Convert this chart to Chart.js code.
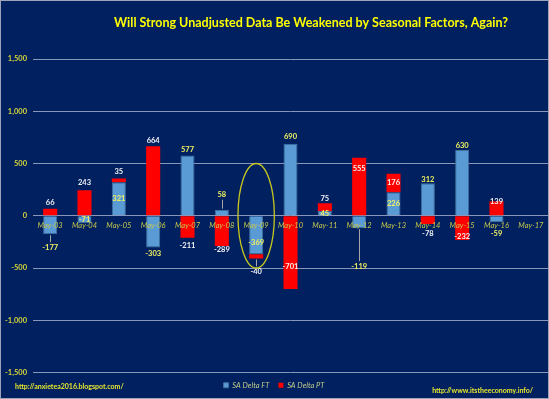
<!DOCTYPE html>
<html>
<head>
<meta charset="utf-8">
<script src="https://cdn.jsdelivr.net/npm/chart.js@4.4.1/dist/chart.umd.min.js"></script>
<style>
  html, body { margin: 0; padding: 0; background: #002060; }
  #wrap { width: 549px; height: 399px; }
</style>
</head>
<body>
<div id="wrap"><canvas id="chart" width="549" height="399"></canvas></div>
<script>
// data
const months = ['May-03', 'May-04', 'May-05', 'May-06', 'May-07', 'May-08', 'May-09', 'May-10',
                'May-11', 'May-12', 'May-13', 'May-14', 'May-15', 'May-16', 'May-17'];
const saDeltaFT = [-177, -71, 321, -303, 577, 58, -369, 690, 45, -119, 226, 312, 630, -59, null];
const saDeltaPT = [66, 243, 35, 664, -211, -289, -40, -701, 75, 555, 176, -78, -232, 139, null];
const yTicks = [-1500, -1000, -500, 0, 500, 1000, 1500];
const highlightMonth = 'May-09';

// where each value label sits: px outward from the bar end, or 'mid' for centred
const ftLabelGap = [13, 'mid', 'mid', 6, 6, 15, -12, 7, 'mid', 38, 'mid', 4, 4, 12, null];
const ptLabelGap = [6, 8, 7, 6, 8, 4, 13, -22, 5, -11, 'mid', 10, -3, 0, null];
const ftLeader = [true, false, false, false, false, true, false, false, false, true, false, false, false, false, false];
const ptLeader = [false, false, false, false, false, false, true, false, false, false, false, false, false, false, false];

const fmt = v => v.toLocaleString('en-US');

const decor = {
    id: 'decor',
    beforeDraw(chart) {
        const c = chart.ctx;
        c.save();
        c.fillStyle = '#002060';
        c.fillRect(0, 0, chart.width, chart.height);
        c.strokeStyle = '#9aa3b8';
        c.lineWidth = 1;
        c.strokeRect(0.5, 0.5, chart.width - 1, chart.height - 1);
        c.restore();
    },
    afterDatasetsDraw(chart) {
        const c = chart.ctx;
        const xs = chart.scales.x, ys = chart.scales.y;
        c.save();
        c.textAlign = 'center';
        c.textBaseline = 'middle';
        c.font = 'bold 7.5px Lato';
        const sets = [
            { gaps: ftLabelGap, leads: ftLeader, color: '#f0f060' },
            { gaps: ptLabelGap, leads: ptLeader, color: '#f2f2f2' }
        ];
        chart.data.datasets.forEach((ds, di) => {
            const meta = chart.getDatasetMeta(di);
            const s = sets[di];
            meta.data.forEach((bar, i) => {
                const v = ds.data[i];
                if (v == null) return;
                const gap = s.gaps[i];
                const dir = v < 0 ? 1 : -1;
                let y;
                if (gap === 'mid') y = (bar.y + bar.base) / 2;
                else y = bar.y + dir * gap;
                if (s.leads[i]) {
                    c.strokeStyle = '#a6a6a6';
                    c.lineWidth = 1;
                    c.beginPath();
                    c.moveTo(Math.round(bar.x) + 0.5, bar.y + dir * 1);
                    c.lineTo(Math.round(bar.x) + 0.5, y - dir * 5);
                    c.stroke();
                }
                c.fillStyle = s.color;
                c.fillText(fmt(v), bar.x, y);
            });
        });

        // yellow ellipse round the highlighted month
        const hi = months.indexOf(highlightMonth);
        const cx = xs.getPixelForValue(hi);
        const step = xs.getPixelForValue(1) - xs.getPixelForValue(0);
        const top = ys.getPixelForValue(500), bottom = ys.getPixelForValue(-500);
        c.strokeStyle = '#c8c81e';
        c.lineWidth = 1.3;
        c.beginPath();
        c.ellipse(cx, (top + bottom) / 2, step * 0.53, (bottom - top) / 2, 0, 0, Math.PI * 2);
        c.stroke();
        c.restore();
    },
    afterDraw(chart) {
        const c = chart.ctx;
        c.save();
        c.textBaseline = 'middle';
        c.fillStyle = '#ffff00';
        c.font = 'bold 12.5px Lato';
        c.textAlign = 'center';
        c.fillText('Will Strong Unadjusted Data Be Weakened by Seasonal Factors, Again?', 311, 23);
        c.fillStyle = '#e6e62e';
        c.font = 'bold 7px Lato';
        c.textAlign = 'left';
        c.fillText('http://anxietea2016.blogspot.com/', 15, 387);
        c.textAlign = 'right';
        c.fillText('http://www.itstheeconomy.info/', 533, 391);
        c.restore();
    }
};

new Chart(document.getElementById('chart'), {
    type: 'bar',
    data: {
        labels: months,
        datasets: [{
            label: 'SA Delta FT',
            data: saDeltaFT,
            backgroundColor: '#5b9bd5',
            borderColor: '#41719c',
            borderWidth: 1
        }, {
            label: 'SA Delta PT',
            data: saDeltaPT,
            backgroundColor: '#ff0000',
            borderColor: '#ff0000',
            borderWidth: 0
        }]
    },
    options: {
        responsive: false,
        animation: false,
        layout: { padding: { top: 59, right: 1, left: 0, bottom: 0 } },
        datasets: { bar: { barPercentage: 0.41, categoryPercentage: 1 } },
        scales: {
            x: {
                stacked: true,
                position: { y: 0 },
                grid: { display: false, drawTicks: false },
                border: { display: false },
                ticks: {
                    z: 1,
                    color: '#c8c84a',
                    font: { family: 'Lato', size: 7.5, style: 'italic' },
                    padding: 5,
                    maxRotation: 0,
                    autoSkip: false
                }
            },
            y: {
                stacked: true,
                min: yTicks[0],
                max: yTicks[yTicks.length - 1],
                afterBuildTicks: scale => { scale.ticks = yTicks.map(v => ({ value: v })); },
                afterFit: scale => { scale.width = 33; },
                grid: { color: '#8a96b8', lineWidth: 1, drawTicks: false },
                border: { display: false },
                ticks: {
                    color: '#d4d43a',
                    font: { family: 'Lato', size: 7.5, weight: 'bold' },
                    padding: 6,
                    callback: v => fmt(v)
                }
            }
        },
        plugins: {
            legend: {
                position: 'bottom',
                labels: {
                    color: '#c4cc8a',
                    font: { family: 'Lato', size: 7.5, style: 'italic' },
                    boxWidth: 5,
                    boxHeight: 5,
                    padding: 9
                }
            },
            tooltip: { enabled: false },
            title: { display: false }
        }
    },
    plugins: [decor]
});
</script>
</body>
</html>
